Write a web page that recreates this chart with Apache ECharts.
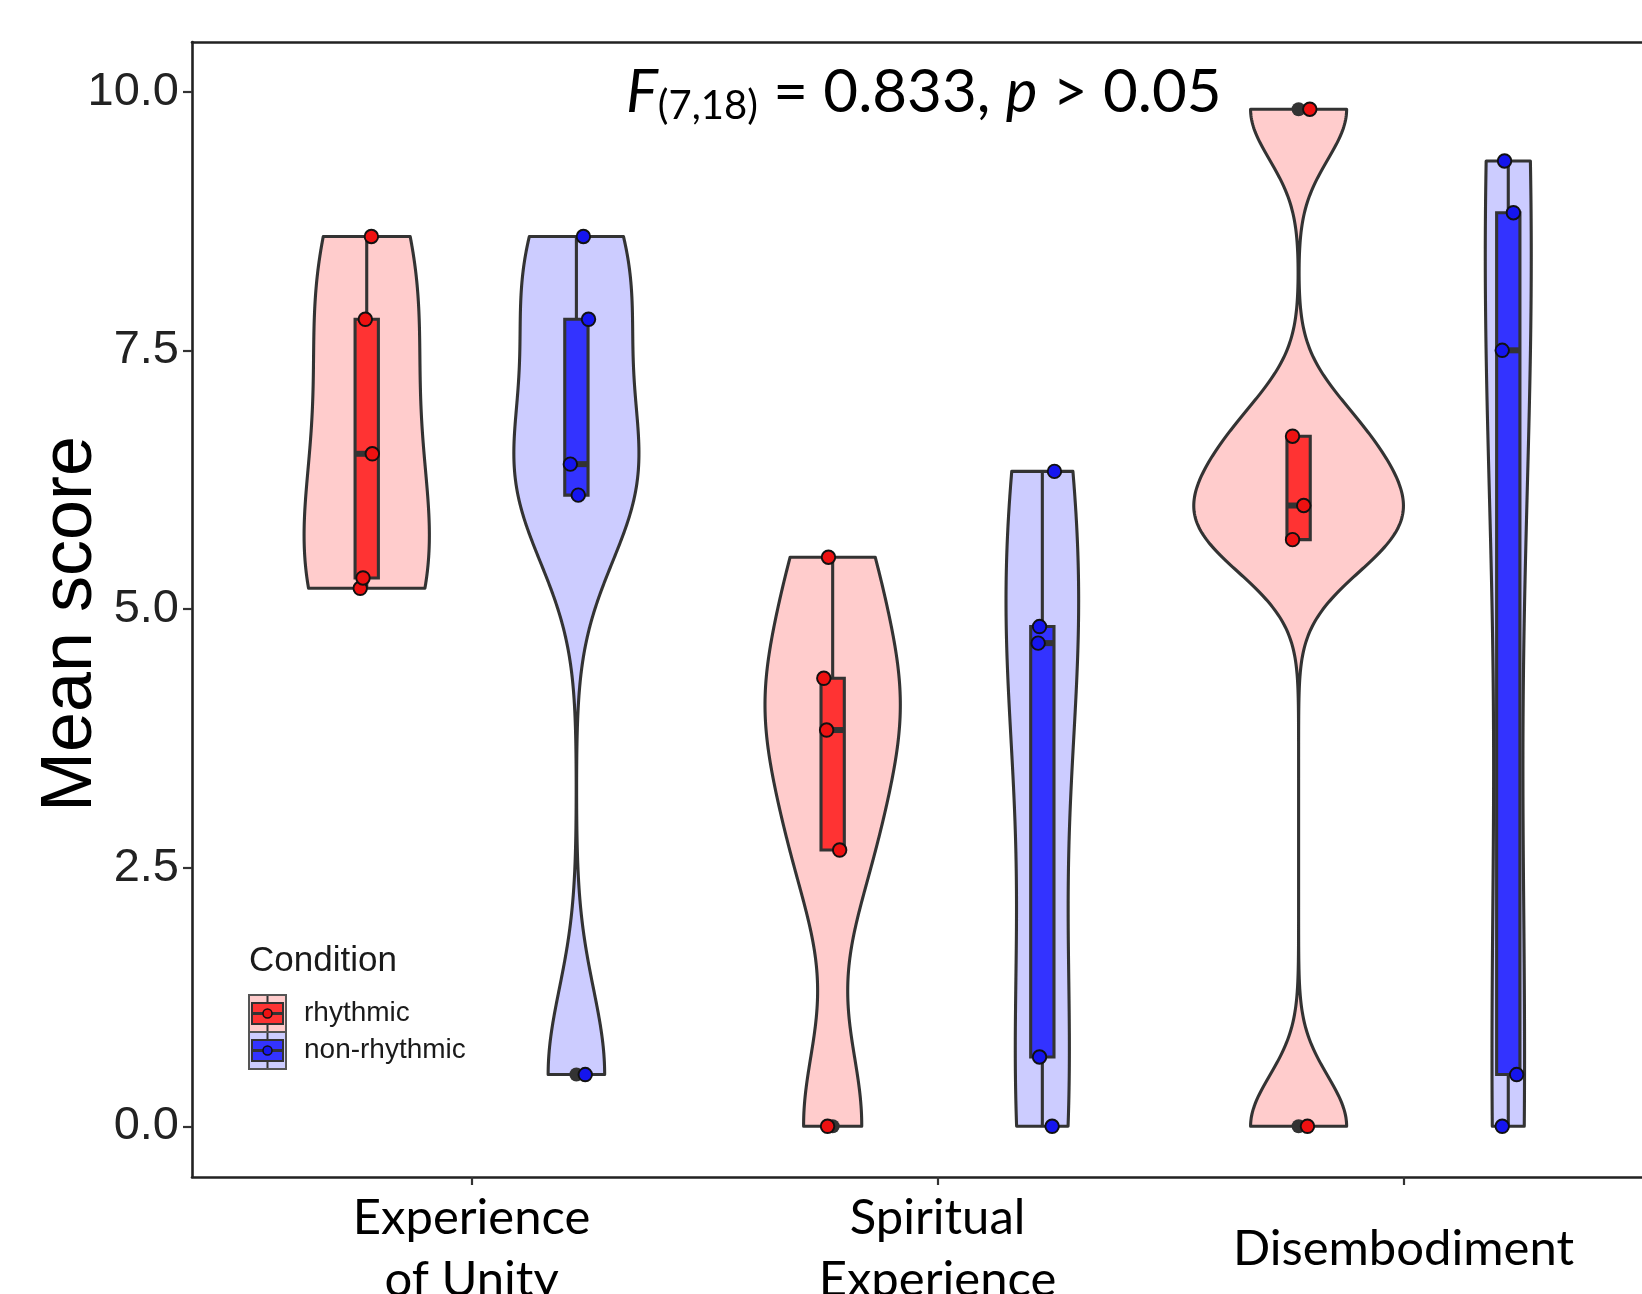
<!DOCTYPE html>
<html><head><meta charset="utf-8">
<script src="https://cdn.jsdelivr.net/npm/echarts@6/dist/echarts.min.js"></script>
<style>html,body{margin:0;padding:0;background:#fff}#c{width:1642px;height:1294px}</style>
</head><body><div id="c"></div>
<script>
// ---------------- data ----------------
const categories = ['Experience\nof Unity', 'Spiritual\nExperience', 'Disembodiment'];
const conditions = ['rhythmic', 'non-rhythmic'];
const yTicks = [0, 2.5, 5, 7.5, 10];

// individual scores (sorted) per category x condition
const unityRhythmic        = [5.2, 5.3, 6.5, 7.8, 8.6];
const unityNonRhythmic     = [0.5, 6.1, 6.4, 7.8, 8.6];
const spiritualRhythmic    = [0, 2.67, 3.83, 4.33, 5.5];
const spiritualNonRhythmic = [0, 0.67, 4.67, 4.83, 6.33];
const disembodRhythmic     = [0, 5.67, 6.0, 6.67, 9.83];
const disembodNonRhythmic  = [0, 0.5, 7.5, 8.83, 9.33];

// horizontal jitter of each point as seen in the picture (category units), same order
const unityRhythmicJitter        = [-0.014, -0.008, 0.012, -0.003, 0.010];
const unityNonRhythmicJitter     = [0.019, 0.004, -0.013, 0.026, 0.015];
const spiritualRhythmicJitter    = [-0.011, 0.015, -0.013, -0.019, -0.009];
const spiritualNonRhythmicJitter = [0.021, -0.006, -0.009, -0.006, 0.026];
const disembodRhythmicJitter     = [0.019, -0.013, 0.011, -0.013, 0.024];
const disembodNonRhythmicJitter  = [-0.013, 0.018, -0.013, 0.011, -0.008];

// ---------------- styling ----------------
const violinFill = ['#FFCCCC', '#CCCCFF'];
const boxFill = ['#FF3333', '#3333FF'];
const pointFill = ['#EE1111', '#1515EE'];
const OUTLINE = '#333333';
const LW = 3.1;
const DODGE = 0.225, VIOLIN_HALF = 0.225, BOX_HALF = 0.025;

const valueSets = [[unityRhythmic, unityNonRhythmic], [spiritualRhythmic, spiritualNonRhythmic], [disembodRhythmic, disembodNonRhythmic]];
const jitterSets = [[unityRhythmicJitter, unityNonRhythmicJitter], [spiritualRhythmicJitter, spiritualNonRhythmicJitter], [disembodRhythmicJitter, disembodNonRhythmicJitter]];

function quantile(s, p) { const h = (s.length - 1) * p, lo = Math.floor(h), hi = Math.ceil(h); return s[lo] + (h - lo) * (s[hi] - s[lo]); }
function bwNrd0(s) {
  const n = s.length, m = s.reduce((a, b) => a + b, 0) / n;
  const sd = Math.sqrt(s.reduce((a, b) => a + (b - m) * (b - m), 0) / (n - 1));
  const iqr = quantile(s, 0.75) - quantile(s, 0.25);
  let lo = Math.min(sd, iqr / 1.34); if (!(lo > 0)) lo = sd || 1;
  return 0.9 * lo * Math.pow(n, -0.2);
}
function kde(s) {
  const bw = bwNrd0(s), n = s.length, N = 512, a = s[0], b = s[n - 1];
  const grid = [], dens = [];
  for (let k = 0; k < N; k++) {
    const y = a + (b - a) * k / (N - 1); let d = 0;
    for (const x of s) { const z = (y - x) / bw; d += Math.exp(-0.5 * z * z); }
    grid.push(y); dens.push(d / (n * bw * Math.sqrt(2 * Math.PI)));
  }
  return { grid, dens };
}

const groups = [];
valueSets.forEach((pair, ci) => pair.forEach((vals, k) => {
  const s = vals.slice().sort((p, q) => p - q);
  const q1 = quantile(s, 0.25), med = quantile(s, 0.5), q3 = quantile(s, 0.75), iqr = q3 - q1;
  const inside = s.filter(v => v >= q1 - 1.5 * iqr && v <= q3 + 1.5 * iqr);
  const { grid, dens } = kde(s);
  groups.push({ cat: ci, cond: k, x: ci + 1 + (k === 0 ? -DODGE : DODGE), vals, jitter: jitterSets[ci][k],
    q1, med, q3, lower: Math.min(...inside), upper: Math.max(...inside),
    outliers: s.filter(v => v < q1 - 1.5 * iqr || v > q3 + 1.5 * iqr), grid, dens });
}));
const maxDens = Math.max(...groups.map(g => Math.max(...g.dens)));

const violinSeries = {
  type: 'custom', z: 1, silent: true,
  data: groups.map(g => [g.x, g.med]),
  renderItem: (params, api) => {
    const g = groups[params.dataIndex], pts = [];
    for (let k = 0; k < g.grid.length; k++) pts.push(api.coord([g.x - VIOLIN_HALF * g.dens[k] / maxDens, g.grid[k]]));
    for (let k = g.grid.length - 1; k >= 0; k--) pts.push(api.coord([g.x + VIOLIN_HALF * g.dens[k] / maxDens, g.grid[k]]));
    return { type: 'polygon', shape: { points: pts }, style: { fill: violinFill[g.cond], stroke: OUTLINE, lineWidth: LW, lineJoin: 'round' } };
  }
};
const boxSeries = {
  type: 'custom', z: 2, silent: true,
  data: groups.map(g => [g.x, g.med]),
  renderItem: (params, api) => {
    const g = groups[params.dataIndex];
    const tl = api.coord([g.x - BOX_HALF, g.q3]), br = api.coord([g.x + BOX_HALF, g.q1]);
    const cTop = api.coord([g.x, g.q3]), cUp = api.coord([g.x, g.upper]);
    const cBot = api.coord([g.x, g.q1]), cLow = api.coord([g.x, g.lower]);
    const mL = api.coord([g.x - BOX_HALF, g.med]), mR = api.coord([g.x + BOX_HALF, g.med]);
    const ls = { stroke: OUTLINE, lineWidth: LW };
    return { type: 'group', children: [
      { type: 'line', shape: { x1: cTop[0], y1: cTop[1], x2: cUp[0], y2: cUp[1] }, style: ls },
      { type: 'line', shape: { x1: cBot[0], y1: cBot[1], x2: cLow[0], y2: cLow[1] }, style: ls },
      { type: 'rect', shape: { x: tl[0], y: tl[1], width: br[0] - tl[0], height: br[1] - tl[1] }, style: { fill: boxFill[g.cond], stroke: OUTLINE, lineWidth: LW } },
      { type: 'line', shape: { x1: mL[0], y1: mL[1], x2: mR[0], y2: mR[1] }, style: { stroke: OUTLINE, lineWidth: 6 } }
    ] };
  }
};
const outlierSeries = {
  type: 'scatter', z: 3, silent: true, symbolSize: 14,
  itemStyle: { color: '#333333', opacity: 1 },
  data: groups.flatMap(g => g.outliers.map(v => [g.x, v]))
};
const pointSeries = conditions.map((c, k) => ({
  type: 'scatter', name: c, z: 4, silent: true, symbolSize: 13.5,
  itemStyle: { color: pointFill[k], borderColor: '#111', borderWidth: 1.9, opacity: 1 },
  data: groups.filter(g => g.cond === k).flatMap(g => g.vals.map((v, i) => [g.x + g.jitter[i], v]))
}));

// legend drawn as graphic (composite violin+box+point key)
const legendChildren = [{ type: 'text', x: 249, y: 961, style: { text: 'Condition', font: '35px "Liberation Sans"', fill: '#1a1a1a', verticalAlign: 'middle', align: 'left' } }];
conditions.forEach((c, k) => {
  const y0 = 995 + k * 37, cx = 267.5, cy = y0 + 18.5;
  legendChildren.push(
    { type: 'rect', shape: { x: 249, y: y0, width: 37, height: 37 }, style: { fill: violinFill[k], stroke: '#555', lineWidth: 2 } },
    { type: 'line', shape: { x1: cx, y1: y0 + 1, x2: cx, y2: y0 + 36 }, style: { stroke: OUTLINE, lineWidth: 2 } },
    { type: 'rect', shape: { x: 252, y: y0 + 8, width: 31, height: 21 }, style: { fill: boxFill[k], stroke: OUTLINE, lineWidth: 2 } },
    { type: 'line', shape: { x1: 252, y1: cy, x2: 283, y2: cy }, style: { stroke: OUTLINE, lineWidth: 3 } },
    { type: 'circle', shape: { cx, cy, r: 4.5 }, style: { fill: pointFill[k], stroke: '#111', lineWidth: 1.5 } },
    { type: 'text', x: 304, y: cy, style: { text: c, font: '28px "Liberation Sans"', fill: '#1a1a1a', verticalAlign: 'middle', align: 'left' } }
  );
});

const chart = echarts.init(document.getElementById('c'), null, { renderer: 'canvas' });
chart.setOption({
  animation: false,
  backgroundColor: '#ffffff',
  title: {
    left: 626, top: 60, padding: 0,
    text: '{i|F}{s|(7,18)}{n| = 0.833, }{i|p}{n| > 0.05}',
    textStyle: { fontWeight: 'normal', rich: {
      i: { fontFamily: 'Lato', fontStyle: 'italic', fontWeight: 'normal', fontSize: 60, lineHeight: 66, color: '#000' },
      n: { fontFamily: 'Lato', fontWeight: 'normal', fontSize: 60, lineHeight: 66, color: '#000' },
      s: { fontFamily: 'Lato', fontWeight: 'normal', fontSize: 40, lineHeight: 18, verticalAlign: 'bottom', color: '#000' }
    } }
  },
  grid: { left: 192, top: 42, width: 1491, height: 1135, containLabel: false, outerBoundsMode: 'none' },
  xAxis: [{
    type: 'value', min: 0.4, max: 3.6, position: 'bottom',
    axisLine: { show: true, onZero: false, lineStyle: { color: '#222', width: 2.6 } },
    axisTick: { show: true, customValues: categories.map((c, i) => i + 1), length: 8, lineStyle: { color: '#333', width: 2.2 } },
    axisLabel: { customValues: categories.map((c, i) => i + 1), formatter: v => categories[Math.round(v) - 1],
      fontFamily: 'Lato', fontSize: 49, lineHeight: 62, color: '#000', verticalAlign: 'middle', margin: 72 },
    splitLine: { show: false }
  }, {
    type: 'value', min: 0.4, max: 3.6, position: 'top',
    axisLine: { show: true, onZero: false, lineStyle: { color: '#222', width: 2.6 } },
    axisTick: { show: false }, axisLabel: { show: false }, splitLine: { show: false }
  }],
  yAxis: {
    type: 'value', min: -0.49, max: 10.48,
    axisLine: { show: true, onZero: false, lineStyle: { color: '#222', width: 2.6 } },
    axisTick: { show: true, customValues: yTicks, length: 9, lineStyle: { color: '#333', width: 2.2 } },
    axisLabel: { customValues: yTicks, formatter: v => v.toFixed(1), fontFamily: 'Liberation Sans', fontSize: 47, color: '#222', margin: 13 },
    splitLine: { show: false }
  },
  graphic: [
    { type: 'text', x: 71, y: 624, rotation: Math.PI / 2,
      style: { text: 'Mean score', font: '72px "Liberation Sans"', fill: '#000', align: 'center', verticalAlign: 'middle' } },
    { type: 'group', children: legendChildren }
  ],
  series: [violinSeries, boxSeries, outlierSeries, ...pointSeries]
});
</script></body></html>
